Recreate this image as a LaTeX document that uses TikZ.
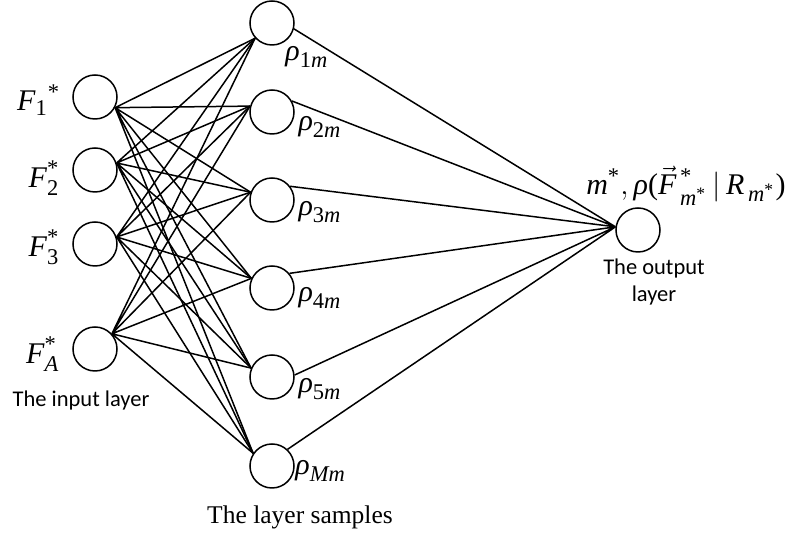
\documentclass[tikz,border=0pt]{standalone}
\usepackage{amsmath}
\usepackage{fontspec}
\setmainfont{Liberation Serif}
\newfontfamily\calfont{Carlito}
\DeclareMathSizes{12}{12}{9}{7}
\begin{document}
\begin{tikzpicture}[x=0.4pt,y=-0.4pt,
	neur/.style={draw,circle,line width=0.6pt,minimum size=17.6pt,inner sep=0pt},
	wire/.style={line width=0.6pt},
	mlbl/.style={inner sep=0pt,font=\fontsize{12}{14}\selectfont},
	ctxt/.style={inner sep=0pt,font=\calfont\fontsize{9}{10.8}\selectfont,align=center}]
	\useasboundingbox (0,0) rectangle (789,538);
	\path
	node[neur] (ent1) at (95,97) {}
	node[neur] (ent2) at (95,170) {}
	node[neur] (ent3) at (95,244) {}
	node[neur] (ent4) at (95,349) {}
	node[neur] (hid1) at (272,23) {}
	node[neur] (hid2) at (272,112) {}
	node[neur] (hid3) at (272,200) {}
	node[neur] (hid4) at (272,288) {}
	node[neur] (hid5) at (272,377) {}
	node[neur] (hid6) at (272,466) {}
	node[neur] (sal) at (638,230) {}
	;
	\draw[wire]
	(ent1.-28) -- (hid1.222)
	(ent1.-28) -- (hid2.165)
	(ent1.-28) -- (hid3.160)
	(ent1.-28) -- (hid4.155)
	(ent1.-28) -- (hid5.157)
	(ent1.-28) -- (hid6.146);
	\draw[wire]
	(ent2.18) -- (hid1.222)
	(ent2.18) -- (hid2.165)
	(ent2.18) -- (hid3.160)
	(ent2.18) -- (hid4.155)
	(ent2.18) -- (hid5.157)
	(ent2.18) -- (hid6.146);
	\draw[wire]
	(ent3.18) -- (hid1.222)
	(ent3.18) -- (hid2.165)
	(ent3.18) -- (hid3.160)
	(ent3.18) -- (hid4.155)
	(ent3.18) -- (hid5.157)
	(ent3.18) -- (hid6.146);
	\draw[wire]
	(ent4.42) -- (hid1.222)
	(ent4.42) -- (hid2.165)
	(ent4.42) -- (hid3.160)
	(ent4.42) -- (hid4.155)
	(ent4.42) -- (hid5.157)
	(ent4.42) -- (hid6.146);
	\draw[wire]
	(hid1.-15) -- (sal.172)
	(hid2.29) -- (sal.172)
	(hid3.37) -- (sal.172)
	(hid4.40) -- (sal.172)
	(hid5.5) -- (sal.172)
	(hid6.47) -- (sal.172);
	\node[mlbl,anchor=east] (lf1) at (61,100) {$\textit{F}_{\textrm{1}}{}^{\textrm{*}}$};
	\node[mlbl,anchor=east] (lf2) at (60,178) {$\textit{F}_{\textrm{2}}^{\textrm{*}}$};
	\node[mlbl,anchor=east] (lf3) at (60,247) {$\textit{F}_{\textrm{3}}^{\textrm{*}}$};
	\node[mlbl,anchor=east] (lf4) at (60,354) {$\textit{F}_{\textit{A}}^{\textrm{*}}$};
	\node[mlbl,anchor=west] (lh1) at (285,57) {$\textit{ρ}_{\textrm{1}\textit{m}}$};
	\node[mlbl,anchor=west] (lh2) at (298,127) {$\textit{ρ}_{\textrm{2}\textit{m}}$};
	\node[mlbl,anchor=west] (lh3) at (298,212) {$\textit{ρ}_{\textrm{3}\textit{m}}$};
	\node[mlbl,anchor=west] (lh4) at (298,298) {$\textit{ρ}_{\textrm{4}\textit{m}}$};
	\node[mlbl,anchor=west] (lh5) at (298,389) {$\textit{ρ}_{\textrm{5}\textit{m}}$};
	\node[mlbl,anchor=west] (lh6) at (295,471) {$\textit{ρ}_{\textit{Mm}}$};
	\node[mlbl] (lsal) at (686,186) {$\textit{m}^{\textrm{*}}, \textit{ρ}\textrm{(}\vec{\textit{F}}{}^{\,\textrm{*}}_{\,\textit{m}^{\textrm{*}}}\,|\,\textit{R}_{\,\textit{m}^{\textrm{*}}}\textrm{)}$};
	\node[ctxt] (tin) at (81,401) {The input layer};
	\node[ctxt] (tout) at (654,282) {The output\\layer};
	\node[inner sep=0pt,font=\fontsize{10.2}{12}\selectfont] (tsam) at (300,517) {The layer samples};
\end{tikzpicture}
\end{document}
